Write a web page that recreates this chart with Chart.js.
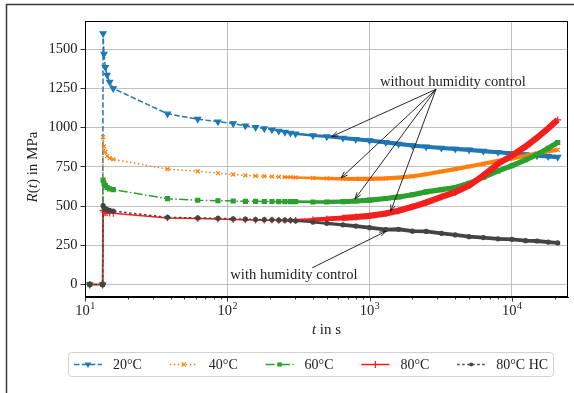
<!DOCTYPE html>
<html>
<head>
<meta charset="utf-8">
<script src="https://cdn.jsdelivr.net/npm/chart.js@4.4.0/dist/chart.umd.min.js"></script>
<style>
  html, body { margin: 0; padding: 0; background: #fff; }
  #wrap { width: 574px; height: 393px; }
</style>
</head>
<body>
<div id="wrap"><canvas id="relax" width="574" height="393"></canvas></div>
<script>
// Relaxation modulus R(t) vs time, shared time grid for all runs (s)
const tSec = [10.8, 13.3, 13.4, 13.6, 13.9, 14.3, 14.9, 15.8,
  38, 62, 86, 110, 134, 158, 182, 206, 230, 254, 278, 302,
  400, 500, 650, 800, 1000, 1300, 1600, 2000, 2500, 3200, 4000, 5000, 6300, 8000, 10000, 12500, 15000, 18000, 21000];

// R(t) in MPa
const r20 = [0, 0, 1600, 1470, 1385, 1335, 1290, 1250,
  1088, 1054, 1038, 1026, 1012, 1002, 994, 987, 979, 972, 966, 961,
  950, 943, 934, 926, 918, 906, 896, 886, 878, 870, 864, 858, 850, 843, 835, 828, 822, 817, 812];
const r40 = [0, 0, 940, 880, 845, 818, 805, 798,
  735, 722, 710, 701, 696, 692, 690, 688, 686, 685, 684, 682,
  679, 676, 674, 673, 673, 676, 681, 690, 703, 720, 735, 752, 770, 788, 803, 820, 835, 848, 859];
const r60 = [0, 0, 665, 645, 630, 618, 610, 605,
  547, 537, 534, 532, 530, 530, 529, 529, 528, 528, 528, 528,
  526, 526, 528, 532, 538, 548, 558, 572, 590, 605, 618, 645, 683, 724, 757, 795, 828, 868, 905];
const r80 = [0, 0, 472, 462, 458, 456, 455, 454,
  424, 420, 418, 414, 412, 411, 410, 410, 409, 409, 409, 409,
  414, 418, 424, 430, 437, 452, 470, 495, 523, 558, 588, 630, 695, 770, 822, 880, 935, 995, 1050];
const r80hc = [0, 0, 503, 490, 482, 477, 472, 468,
  428, 424, 422, 418, 416, 414, 413, 412, 410, 410, 409, 406,
  398, 390, 380, 372, 362, 350, 352, 340, 338, 326, 316, 305, 299, 291, 288, 279, 277, 270, 265];

const labels = ['20°C', '40°C', '60°C', '80°C', '80°C HC'];
const xTickExp = [1, 2, 3, 4];
const yTicks = [0, 250, 500, 750, 1000, 1250, 1500];

const SERIF = '"Liberation Serif", "DejaVu Serif", serif';
// samples get so close on the log axis that they merge into a band
const BAND_START = 200, BAND_FULL = 700;

const styles = [
  { color: '#1f77b4', dash: [5.5, 2.4], point: 'triangle', rot: 180, r: 3.4, band: 4.2 },
  { color: '#ff7f0e', dash: [1.5, 2.5], point: 'crossRot', rot: 0, r: 2.8, band: 4.2 },
  { color: '#2ca02c', dash: [9, 2.4, 1.5, 2.4], point: 'rect', rot: 0, r: 2.8, band: 5.2 },
  { color: '#f41e1e', dash: [], point: 'cross', rot: 0, r: 3.4, band: 6.2 },
  { color: '#444444', dash: [2.5, 2.5], point: 'circle', rot: 0, r: 2, band: 3.8 }
];

const seriesVals = [r20, r40, r60, r80, r80hc];

function bandWidth(t, band) {
  if (t < BAND_START) return 1.5;
  const f = Math.min(1, Math.log(t / BAND_START) / Math.log(BAND_FULL / BAND_START));
  return 1.5 + f * (band - 1.5);
}

const datasets = seriesVals.map((vals, i) => {
  const s = styles[i];
  return {
    label: labels[i],
    data: tSec.map((t, k) => ({ x: t, y: vals[k] })),
    borderColor: s.color,
    backgroundColor: s.color,
    borderWidth: 1.5,
    borderDash: s.dash,
    pointStyle: s.point,
    pointRotation: s.rot,
    pointRadius: s.r,
    pointBorderWidth: 1.2,
    pointBorderColor: s.color,
    pointBackgroundColor: s.color,
    fill: false,
    tension: 0,
    order: 5 - i,
    segment: {
      borderWidth: c => bandWidth(c.p0.parsed.x, s.band),
      borderDash: c => c.p0.parsed.x >= BAND_START + 50 ? [] : s.dash
    }
  };
});

// annotation anchors in data coordinates
const noteWithout = { text: 'without humidity control', at: [3850, 1290], from: [2930, 1245],
  to: [[542, 943], [630, 679], [789, 545], [1406, 466]] };
const noteWith = { text: 'with humidity control', at: [294, 57], from: [395, 106], to: [[1304, 339]] };

function isMajor(v) {
  const l = Math.log10(v);
  return Math.abs(l - Math.round(l)) < 1e-9;
}

function drawRuns(ctx, runs, x, y, size) {
  let total = 0;
  runs.forEach(r => {
    ctx.font = (r.it ? 'italic ' : '') + size + 'px ' + SERIF;
    r.w = ctx.measureText(r.t).width;
    total += r.w;
  });
  let cx = x - total / 2;
  ctx.textAlign = 'left';
  runs.forEach(r => {
    ctx.font = (r.it ? 'italic ' : '') + size + 'px ' + SERIF;
    ctx.fillText(r.t, cx, y);
    cx += r.w;
  });
}

function arrow(ctx, x1, y1, x2, y2) {
  const a = Math.atan2(y2 - y1, x2 - x1), L = 7, w = 0.33;
  ctx.beginPath();
  ctx.moveTo(x1, y1);
  ctx.lineTo(x2, y2);
  ctx.moveTo(x2 - L * Math.cos(a - w), y2 - L * Math.sin(a - w));
  ctx.lineTo(x2, y2);
  ctx.lineTo(x2 - L * Math.cos(a + w), y2 - L * Math.sin(a + w));
  ctx.stroke();
}

function marker(ctx, s, x, y) {
  const r = s.r;
  ctx.save();
  ctx.setLineDash([]);
  ctx.fillStyle = s.color;
  ctx.strokeStyle = s.color;
  ctx.lineWidth = 1.2;
  ctx.beginPath();
  if (s.point === 'triangle') {
    ctx.moveTo(x - r, y - r * 0.6); ctx.lineTo(x + r, y - r * 0.6); ctx.lineTo(x, y + r);
    ctx.closePath(); ctx.fill();
  } else if (s.point === 'crossRot') {
    const d = r * 0.75;
    ctx.moveTo(x - d, y - d); ctx.lineTo(x + d, y + d);
    ctx.moveTo(x - d, y + d); ctx.lineTo(x + d, y - d); ctx.stroke();
  } else if (s.point === 'rect') {
    const d = r * 0.75;
    ctx.fillRect(x - d, y - d, 2 * d, 2 * d);
  } else if (s.point === 'cross') {
    ctx.moveTo(x - r, y); ctx.lineTo(x + r, y);
    ctx.moveTo(x, y - r); ctx.lineTo(x, y + r); ctx.stroke();
  } else {
    ctx.arc(x, y, r, 0, Math.PI * 2); ctx.fill();
  }
  ctx.restore();
}

const decor = {
  id: 'decor',
  beforeDraw(chart) {
    const ctx = chart.ctx;
    ctx.save();
    ctx.fillStyle = '#fff';
    ctx.fillRect(0, 0, chart.width, chart.height);
    ctx.restore();
  },
  afterDraw(chart) {
    const ctx = chart.ctx;
    const xs = chart.scales.x, ys = chart.scales.y;
    const a = chart.chartArea;
    ctx.save();

    // axes frame
    ctx.strokeStyle = '#000';
    ctx.lineWidth = 1;
    ctx.setLineDash([]);
    ctx.strokeRect(a.left + 0.5, a.top + 0.5, a.right - a.left - 1, a.bottom - a.top - 1);

    // x ticks, major and minor, pointing outward
    ctx.lineWidth = 0.8;
    ctx.beginPath();
    for (let e = 1; e <= 4; e++) {
      for (let m = 1; m <= 9; m++) {
        const v = m * Math.pow(10, e);
        if (v < xs.min || v > xs.max) continue;
        const px = Math.round(xs.getPixelForValue(v)) + 0.5;
        ctx.moveTo(px, a.bottom);
        ctx.lineTo(px, a.bottom + (m === 1 ? 4.5 : 2.5));
      }
    }
    ctx.stroke();

    // x tick labels as 10^n
    ctx.fillStyle = '#222';
    ctx.textBaseline = 'alphabetic';
    xTickExp.forEach(e => {
      const px = xs.getPixelForValue(Math.pow(10, e));
      ctx.font = '14.5px ' + SERIF;
      const wb = ctx.measureText('10').width;
      ctx.font = '10px ' + SERIF;
      const we = ctx.measureText(String(e)).width;
      const x0 = px - (wb + we) / 2;
      ctx.font = '14.5px ' + SERIF;
      ctx.textAlign = 'left';
      ctx.fillText('10', x0, 315);
      ctx.font = '10px ' + SERIF;
      ctx.fillText(String(e), x0 + wb + 0.5, 309);
    });

    // axis titles
    drawRuns(ctx, [{ t: 't', it: true }, { t: ' in s', it: false }], (a.left + a.right) / 2, 334, 15);
    ctx.save();
    ctx.translate(37, 167);
    ctx.rotate(-Math.PI / 2);
    drawRuns(ctx, [{ t: 'R', it: true }, { t: '(', it: false }, { t: 't', it: true }, { t: ') in MPa', it: false }], 0, 0, 15);
    ctx.restore();

    // annotations
    ctx.strokeStyle = '#111';
    ctx.lineWidth = 0.9;
    [noteWithout, noteWith].forEach(n => {
      ctx.font = '14.6px ' + SERIF;
      ctx.textAlign = 'center';
      ctx.textBaseline = 'middle';
      ctx.fillStyle = '#222';
      ctx.fillText(n.text, xs.getPixelForValue(n.at[0]), ys.getPixelForValue(n.at[1]));
      const fx = xs.getPixelForValue(n.from[0]), fy = ys.getPixelForValue(n.from[1]);
      n.to.forEach(p => arrow(ctx, fx, fy, xs.getPixelForValue(p[0]), ys.getPixelForValue(p[1])));
    });

    // legend below the axes
    const lx = 68.5, ly = 352.5, lw = 485, lh = 24;
    ctx.beginPath();
    ctx.roundRect(lx, ly, lw, lh, 3);
    ctx.fillStyle = 'rgba(255,255,255,0.9)';
    ctx.fill();
    ctx.strokeStyle = '#d0d0d0';
    ctx.lineWidth = 1;
    ctx.stroke();
    const cy = ly + lh / 2;
    labels.forEach((lab, i) => {
      const s = styles[i];
      const x1 = 74 + i * 95.8, x2 = x1 + 28;
      ctx.strokeStyle = s.color;
      ctx.lineWidth = 1.5;
      ctx.setLineDash(s.dash);
      ctx.beginPath();
      ctx.moveTo(x1, cy);
      ctx.lineTo(x2, cy);
      ctx.stroke();
      ctx.setLineDash([]);
      marker(ctx, s, (x1 + x2) / 2, cy);
      ctx.fillStyle = '#222';
      ctx.font = '14px ' + SERIF;
      ctx.textAlign = 'left';
      ctx.textBaseline = 'middle';
      ctx.fillText(lab, x1 + 39, cy + 0.5);
    });

    // figure border (top and left edges)
    ctx.strokeStyle = '#3a3a3a';
    ctx.lineWidth = 1.5;
    ctx.beginPath();
    ctx.moveTo(574, 4.5);
    ctx.lineTo(6.5, 4.5);
    ctx.lineTo(6.5, 393);
    ctx.stroke();
    ctx.restore();
  }
};

new Chart(document.getElementById('relax'), {
  type: 'line',
  data: { datasets },
  plugins: [decor],
  options: {
    responsive: false,
    animation: false,
    devicePixelRatio: 1,
    layout: { padding: { left: 0, top: 21, right: 6, bottom: 0 } },
    plugins: { legend: { display: false }, tooltip: { enabled: false } },
    scales: {
      x: {
        type: 'logarithmic',
        min: 10,
        max: 24800,
        grid: {
          color: c => (c.tick && isMajor(c.tick.value)) ? '#b0b0b0' : 'rgba(0,0,0,0)',
          lineWidth: 0.8,
          drawTicks: false
        },
        border: { color: '#000', width: 1 },
        ticks: { display: false },
        afterFit: s => { s.height = 96; }
      },
      y: {
        min: -80,
        max: 1680,
        afterBuildTicks: s => { s.ticks = yTicks.map(v => ({ value: v })); },
        grid: { color: '#b0b0b0', lineWidth: 0.8, tickColor: '#000', tickLength: 4.5 },
        border: { color: '#000', width: 1 },
        ticks: {
          color: '#222',
          font: { family: SERIF, size: 14.5 },
          padding: 3,
          callback: v => String(v)
        },
        afterFit: s => { s.width = 85; }
      }
    }
  }
});
</script>
</body>
</html>
